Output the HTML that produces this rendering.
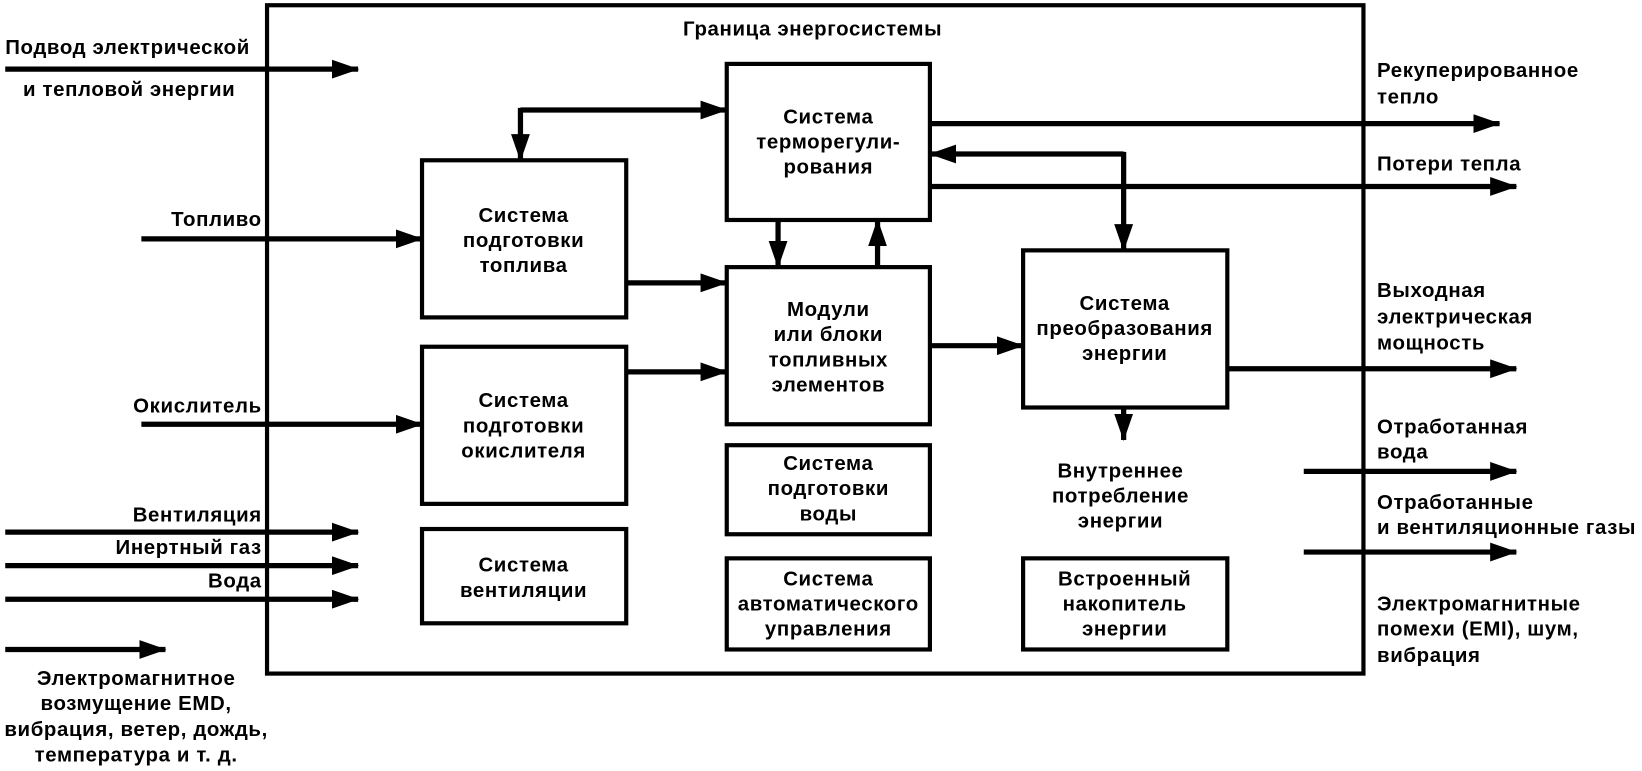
<!DOCTYPE html>
<html><head><meta charset="utf-8"><style>
html,body{margin:0;padding:0;background:#fff;}
svg{display:block;}
text{font-family:"Liberation Sans","DejaVu Sans",sans-serif;font-size:19.5px;font-weight:bold;letter-spacing:0.6px;fill:#000;dominant-baseline:central;}
.c{text-anchor:middle}.r{text-anchor:end}
</style></head><body>
<svg width="1642" height="771" viewBox="0 0 1568 736" preserveAspectRatio="none" xmlns="http://www.w3.org/2000/svg">
<defs><marker id="a" markerUnits="userSpaceOnUse" markerWidth="26" markerHeight="18" refX="25" refY="9" orient="auto"><path d="M0,0 L26,9 L0,18 Z" fill="#000"/></marker></defs>
<g fill="none" stroke="#000" stroke-width="4">
<rect x="255" y="5" width="1047" height="638"/>
<rect x="403" y="153" width="195" height="150"/>
<rect x="403" y="331" width="195" height="150"/>
<rect x="403" y="505" width="195" height="90"/>
<rect x="694" y="61" width="194" height="149"/>
<rect x="694" y="255" width="194" height="150"/>
<rect x="694" y="425" width="194" height="85"/>
<rect x="694" y="533" width="194" height="87"/>
<rect x="977" y="239" width="195" height="150"/>
<rect x="977" y="533" width="195" height="87"/>
</g>
<g fill="none" stroke="#000" stroke-width="5" marker-end="url(#a)">
<path d="M5 66H342"/>
<path d="M135 228H403"/>
<path d="M135 405H403"/>
<path d="M5 508H342"/>
<path d="M5 540H342"/>
<path d="M5 572H342"/>
<path d="M5 620H158"/>
<path d="M497 105H694"/>
<path d="M497 103V153"/>
<path d="M598 270H694"/>
<path d="M598 355H694"/>
<path d="M743 210V255"/>
<path d="M838 255V210"/>
<path d="M888 330H977"/>
<path d="M888 118H1432"/>
<path d="M888 178H1448"/>
<path d="M1073 147H888"/>
<path d="M1073 145V239"/>
<path d="M1172 352H1448"/>
<path d="M1073 389V420"/>
<path d="M1245 450H1448"/>
<path d="M1245 527H1448"/>
</g>
<text x="776" y="28" class="c">Граница энергосистемы</text>
<text x="5" y="46">Подвод электрической</text>
<text x="22" y="86">и тепловой энергии</text>
<text x="250" y="210" class="r">Топливо</text>
<text x="250" y="388" class="r">Окислитель</text>
<text x="250" y="492" class="r">Вентиляция</text>
<text x="250" y="523" class="r">Инертный газ</text>
<text x="250" y="555" class="r">Вода</text>
<text x="130" y="648" class="c">Электромагнитное</text>
<text x="130" y="672" class="c">возмущение EMD,</text>
<text x="130" y="697" class="c">вибрация, ветер, дождь,</text>
<text x="130" y="721" class="c">температура и т. д.</text>
<text x="500" y="206" class="c">Система</text><text x="500" y="230" class="c">подготовки</text><text x="500" y="254" class="c">топлива</text>
<text x="500" y="383" class="c">Система</text><text x="500" y="407" class="c">подготовки</text><text x="500" y="431" class="c">окислителя</text>
<text x="500" y="540" class="c">Система</text><text x="500" y="564" class="c">вентиляции</text>
<text x="791" y="112" class="c">Система</text><text x="791" y="136" class="c">терморегули-</text><text x="791" y="160" class="c">рования</text>
<text x="791" y="296" class="c">Модули</text><text x="791" y="320" class="c">или блоки</text><text x="791" y="344" class="c">топливных</text><text x="791" y="368" class="c">элементов</text>
<text x="791" y="443" class="c">Система</text><text x="791" y="467" class="c">подготовки</text><text x="791" y="491" class="c">воды</text>
<text x="791" y="553" class="c">Система</text><text x="791" y="577" class="c">автоматического</text><text x="791" y="601" class="c">управления</text>
<text x="1074" y="290" class="c">Система</text><text x="1074" y="314" class="c">преобразования</text><text x="1074" y="338" class="c">энергии</text>
<text x="1070" y="450" class="c">Внутреннее</text><text x="1070" y="474" class="c">потребление</text><text x="1070" y="498" class="c">энергии</text>
<text x="1074" y="553" class="c">Встроенный</text><text x="1074" y="577" class="c">накопитель</text><text x="1074" y="601" class="c">энергии</text>
<text x="1315" y="68">Рекуперированное</text><text x="1315" y="93">тепло</text>
<text x="1315" y="157">Потери тепла</text>
<text x="1315" y="278">Выходная</text><text x="1315" y="303">электрическая</text><text x="1315" y="328">мощность</text>
<text x="1315" y="408">Отработанная</text><text x="1315" y="432">вода</text>
<text x="1315" y="480">Отработанные</text><text x="1315" y="504">и вентиляционные газы</text>
<text x="1315" y="577">Электромагнитные</text><text x="1315" y="601">помехи (EMI), шум,</text><text x="1315" y="626">вибрация</text>
</svg>
</body></html>
